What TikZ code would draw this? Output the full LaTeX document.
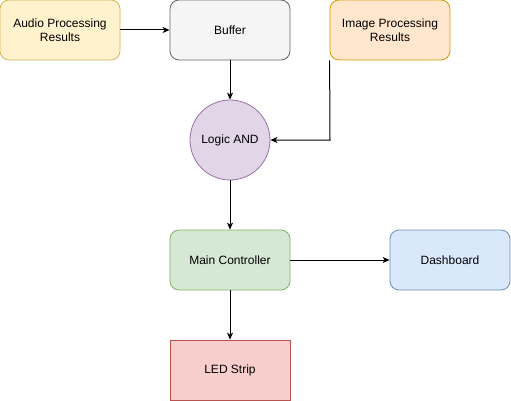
\documentclass[tikz,border=0pt]{standalone}
\usepackage{fontspec}
\setmainfont{Liberation Sans}
\usetikzlibrary{arrows.meta}
\definecolor{audF}{HTML}{FFF2CC}\definecolor{audD}{HTML}{D6B656}
\definecolor{bufF}{HTML}{F5F5F5}\definecolor{bufD}{HTML}{666666}
\definecolor{imgF}{HTML}{FFE6CC}\definecolor{imgD}{HTML}{D79B00}
\definecolor{logF}{HTML}{E1D5E7}\definecolor{logD}{HTML}{9673A6}
\definecolor{mainF}{HTML}{D5E8D4}\definecolor{mainD}{HTML}{82B366}
\definecolor{dashF}{HTML}{DAE8FC}\definecolor{dashD}{HTML}{6C8EBF}
\definecolor{ledF}{HTML}{F8CECC}\definecolor{ledD}{HTML}{B85450}
\begin{document}
\begin{tikzpicture}[x=1pt,y=-1pt,
  box/.style={draw, line width=0.8pt, minimum width=120pt, minimum height=60pt, inner sep=0pt, align=center, font=\fontsize{12}{14}\selectfont},
  rbox/.style={box, rounded corners=9pt},
  conn/.style={draw, line width=1pt, -{Stealth[length=7pt,width=6pt,inset=2pt]}}]
\useasboundingbox (0,0) rectangle (511,401);
\node[rbox, fill=audF, draw=audD] (aud) at (60,30) {Audio Processing\\Results};
\node[rbox, fill=bufF, draw=bufD] (buf) at (230,30) {Buffer};
\node[rbox, fill=imgF, draw=imgD] (img) at (390,30) {Image Processing\\Results};
\node[circle, draw=logD, fill=logF, line width=0.8pt, minimum size=80pt, inner sep=0pt, font=\fontsize{12}{14}\selectfont] (log) at (230,140) {Logic AND};
\node[rbox, fill=mainF, draw=mainD] (main) at (230,260) {Main Controller};
\node[rbox, fill=dashF, draw=dashD] (dash) at (450,260) {Dashboard};
\node[box, fill=ledF, draw=ledD] (led) at (230,370) {LED Strip};
\coordinate (bend) at (330,140);
\draw[conn] (aud) -- (buf);
\draw[conn] (buf) -- (log);
\draw[conn] (img.south west) -- (bend) -- (log.east);
\draw[conn] (log) -- (main);
\draw[conn] (main) -- (dash);
\draw[conn] (main) -- (led);
\end{tikzpicture}
\end{document}
